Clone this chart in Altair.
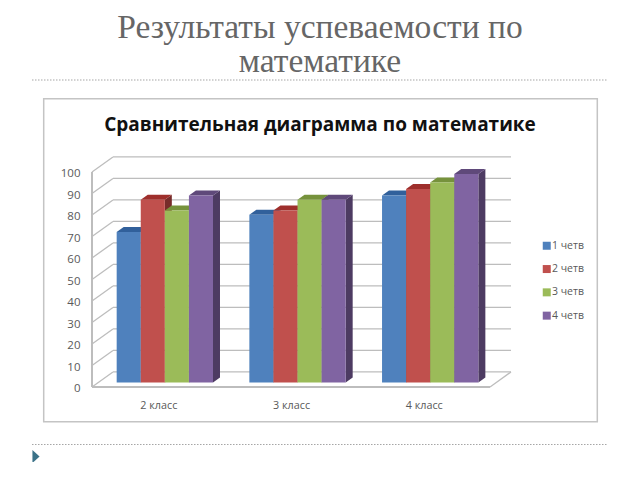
import altair as alt
import pandas as pd

classes = ["2 класс", "3 класс", "4 класс"]
series = ["1 четв", "2 четв", "3 четв", "4 четв"]
q1 = [70, 78, 87]
q2 = [85, 80, 90]
q3 = [80, 85, 93]
q4 = [87, 85, 97]
series_values = [q1, q2, q3, q4]
front_colors = ["#4f81bd", "#c0504d", "#9bbb59", "#8064a2"]
top_colors = ["#31609b", "#9e2f2c", "#76923c", "#5f497a"]
side_colors = ["#2c4d75", "#772c2a", "#5f7530", "#4d3b62"]
y_ticks = list(range(0, 101, 10))
slide_title = ["Результаты успеваемости по", "математике"]
chart_title = "Сравнительная диаграмма по математике"

# layout of the pseudo-3D box (value units)
X_MAX, Y_MIN, Y_MAX = 3.158, -2.1, 105.9
FRONT, BACK, BACK_X = -2.1, 4.9, 0.158
GROUP_START, BAR_W, DX, DY = 0.186, 0.1815, 0.0527, 2.33
LEFT, TOP = 92.0, 154.8
W, H = 419, 232.2

x_scale = alt.Scale(domain=[0, X_MAX], nice=False, zero=False)
y_scale = alt.Scale(domain=[Y_MIN, Y_MAX], nice=False, zero=False)
X = alt.X("x:Q", scale=x_scale, title=None,
          axis=alt.Axis(values=[0.5, 1.5, 2.5],
                        labelExpr="['2 класс','3 класс','4 класс'][floor(datum.value)]",
                        domain=False, ticks=False, grid=False, labelPadding=12,
                        labelFont="Open Sans", labelFontSize=10.8, labelColor="#595959"))
Y = alt.Y("y:Q", scale=y_scale, title=None,
          axis=alt.Axis(values=y_ticks, domain=False, ticks=False, grid=False,
                        labelOffset=6.5, labelPadding=12, labelFont="Open Sans",
                        labelFontSize=11.5, labelColor="#595959"))
WALL = "#bdbdbd"
one = pd.DataFrame({"a": [0]})


def px(v):
    return alt.value(v - LEFT)


def py(v):
    return alt.value(v - TOP)


def text(s, xp, yp, **kw):
    return alt.Chart(one).mark_text(text=s, align="center", baseline="alphabetic", **kw).encode(x=px(xp), y=py(yp))


layers = []
# slide decoration
layers.append(text(slide_title[0], 320, 37.5, font="Liberation Serif", fontSize=33.5, color="#666666"))
layers.append(text(slide_title[1], 320, 71.5, font="Liberation Serif", fontSize=33.5, color="#666666"))
for yy in (80, 444.5):
    layers.append(alt.Chart(one).mark_rule(color="#a6a6a6", strokeWidth=1.2, strokeDash=[1.5, 1.5])
                  .encode(x=px(32), x2=px(608), y=py(yy)))
layers.append(alt.Chart(one).mark_rect(fill="transparent", stroke="#c4c4c4", strokeWidth=1.5)
              .encode(x=px(43.7), x2=px(597.3), y=py(98.7), y2=py(421.7)))
layers.append(alt.Chart(one).mark_point(shape="M-0.55,-1L0.55,0L-0.55,1Z", filled=True, size=170,
                                        color="#3b7288", opacity=1)
              .encode(x=px(36), y=py(456.5)))
layers.append(text(chart_title, 320, 131, font="Open Sans", fontWeight="bold", fontSize=19, color="#111111"))

# walls
back = pd.DataFrame([{"x": BACK_X, "x2": X_MAX, "y": v + BACK} for v in y_ticks])
layers.append(alt.Chart(back).mark_rule(color=WALL, strokeWidth=1.3).encode(x=X, x2="x2:Q", y=Y))
slants = []
for v in y_ticks:
    slants += [{"k": v, "x": 0, "y": v + FRONT}, {"k": v, "x": BACK_X, "y": v + BACK}]
layers.append(alt.Chart(pd.DataFrame(slants)).mark_line(color=WALL, strokeWidth=1.3).encode(x=X, y=Y, detail="k:N"))
floor = pd.DataFrame([{"x": 3, "y": FRONT}, {"x": X_MAX, "y": BACK}])
layers.append(alt.Chart(floor).mark_line(color=WALL, strokeWidth=1.3).encode(x=X, y=Y))
layers.append(alt.Chart(pd.DataFrame([{"x": 0, "x2": 3, "y": FRONT}])).mark_rule(color=WALL, strokeWidth=2)
              .encode(x=X, x2="x2:Q", y=Y))
layers.append(alt.Chart(pd.DataFrame([{"x": 0, "y": FRONT, "y2": 100 + FRONT}])).mark_rule(color=WALL, strokeWidth=2)
              .encode(x=X, y=Y, y2="y2:Q"))

# bars, series by series
for s, (name, vals) in enumerate(zip(series, series_values)):
    front, side, top = [], [], []
    for g, v in enumerate(vals):
        x0 = g + GROUP_START + s * BAR_W
        x1 = x0 + BAR_W
        front.append({"x": x0, "x2": x1, "y": 0, "y2": v, "series": name})
        side += [{"k": g, "x": x1, "y": v, "y2": 0},
                 {"k": g, "x": x1 + DX, "y": v + DY, "y2": DY}]
        top += [{"k": g, "x": x0, "x2": x1, "y": v},
                {"k": g, "x": x0 + DX, "x2": x1 + DX, "y": v + DY}]
    layers.append(alt.Chart(pd.DataFrame(side)).mark_area(color=side_colors[s], opacity=1, line=False)
                  .encode(x=X, y=Y, y2="y2:Q", detail="k:N"))
    layers.append(alt.Chart(pd.DataFrame(top)).mark_area(color=top_colors[s], opacity=1, orient="horizontal")
                  .encode(x=X, x2="x2:Q", y=Y, detail="k:N"))
    layers.append(alt.Chart(pd.DataFrame(front)).mark_rect()
                  .encode(x=X, x2="x2:Q", y=Y, y2="y2:Q",
                          color=alt.Color("series:N",
                                          scale=alt.Scale(domain=series, range=front_colors),
                                          legend=alt.Legend(title=None, orient="none",
                                                            legendX=541.5 - LEFT, legendY=240.5 - TOP,
                                                            symbolType="square", symbolSize=64,
                                                            symbolStrokeWidth=0, rowPadding=12.3, labelFont="Open Sans",
                                                            labelFontSize=10.5, labelColor="#595959",
                                                            labelOffset=0, padding=0))))

chart = alt.layer(*layers).properties(
    width=W, height=H,
    padding={"left": LEFT - 8, "top": TOP - 8, "right": 624 - (LEFT - 8) - W, "bottom": 75},
    autosize=alt.AutoSizeParams(type="none"),
    background="white",
).configure_view(stroke=None)
chart.save("out.html", embed_options={"renderer": "svg", "actions": False})
